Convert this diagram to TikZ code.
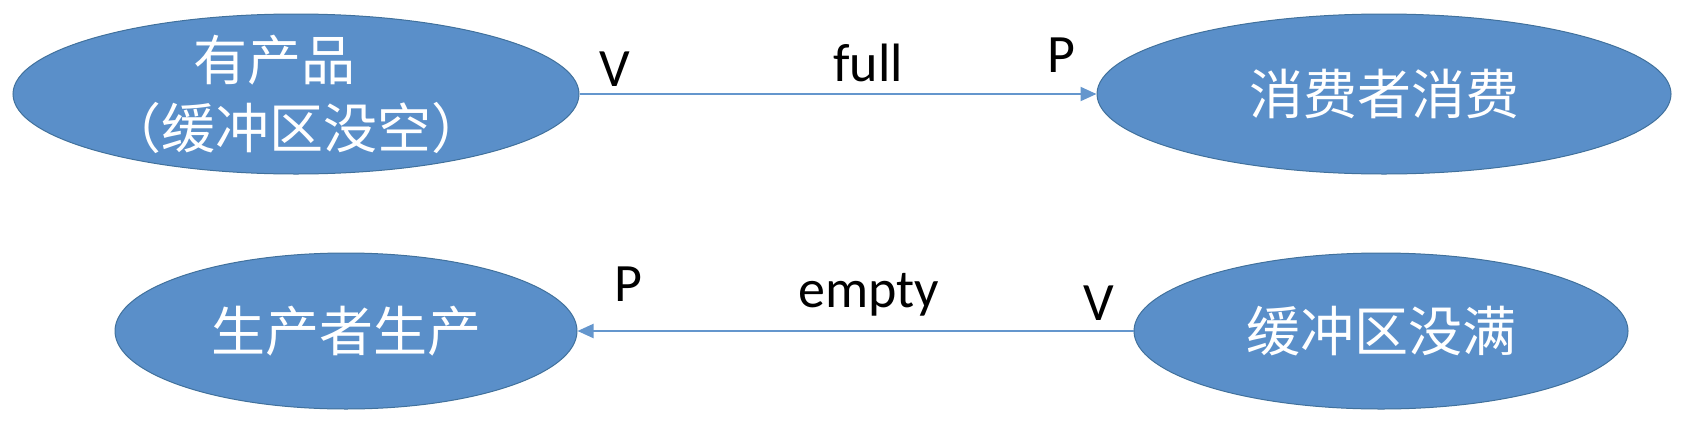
\documentclass[tikz,border=0pt]{standalone}
\usepackage{fontspec}
\setmainfont{Carlito}
\newfontfamily\cjk{Noto Sans CJK SC}
\usetikzlibrary{shapes.geometric,arrows.meta}
\definecolor{ellfill}{RGB}{90,143,201}
\definecolor{elldraw}{RGB}{65,113,156}
\definecolor{arrowc}{RGB}{100,150,205}
\begin{document}
\begin{tikzpicture}[x=1pt,y=-1pt,
  state/.style={ellipse, fill=ellfill, draw=elldraw, line width=1pt, inner sep=0pt},
  statetext/.style={text=white, font=\cjk\fontsize{54}{68}\selectfont, align=center, inner sep=0pt},
  link/.style={draw=arrowc, line width=2pt, -{Triangle[length=16pt,width=14pt]}},
  lab/.style={font=\fontsize{54}{60}\selectfont, text=black, anchor=base, inner sep=0pt}]
\useasboundingbox (0,0) rectangle (1688,426);
% ellipses
\node[state, minimum width=566pt, minimum height=160pt] (a) at (296,94) {};
\node[state, minimum width=574pt, minimum height=160pt] (b) at (1384,94) {};
\node[state, minimum width=462pt, minimum height=156pt] (c) at (346,331) {};
\node[state, minimum width=494pt, minimum height=156pt] (d) at (1381,331) {};
% texts
\node[statetext] (at) at (a.center) {有产品\hspace*{0.8em}\\（缓冲区没空）};
\node[statetext] (bt) at (b.center) {消费者消费};
\node[statetext] (ct) at (c.center) {生产者生产};
\node[statetext] (dt) at (d.center) {缓冲区没满};
% connectors
\draw[link] (a.east) -- (b.west);
\draw[link] (d.west) -- (c.east);
% labels
\node[lab] (v1) at (615,86) {V};
\node[lab] (f1) at (868,81) {full};
\node[lab] (p1) at (1061,72) {P};
\node[lab] (p2) at (628,301) {P};
\node[lab] (e2) at (869,307) {empty};
\node[lab] (v2) at (1099,320) {V};
\end{tikzpicture}
\end{document}
